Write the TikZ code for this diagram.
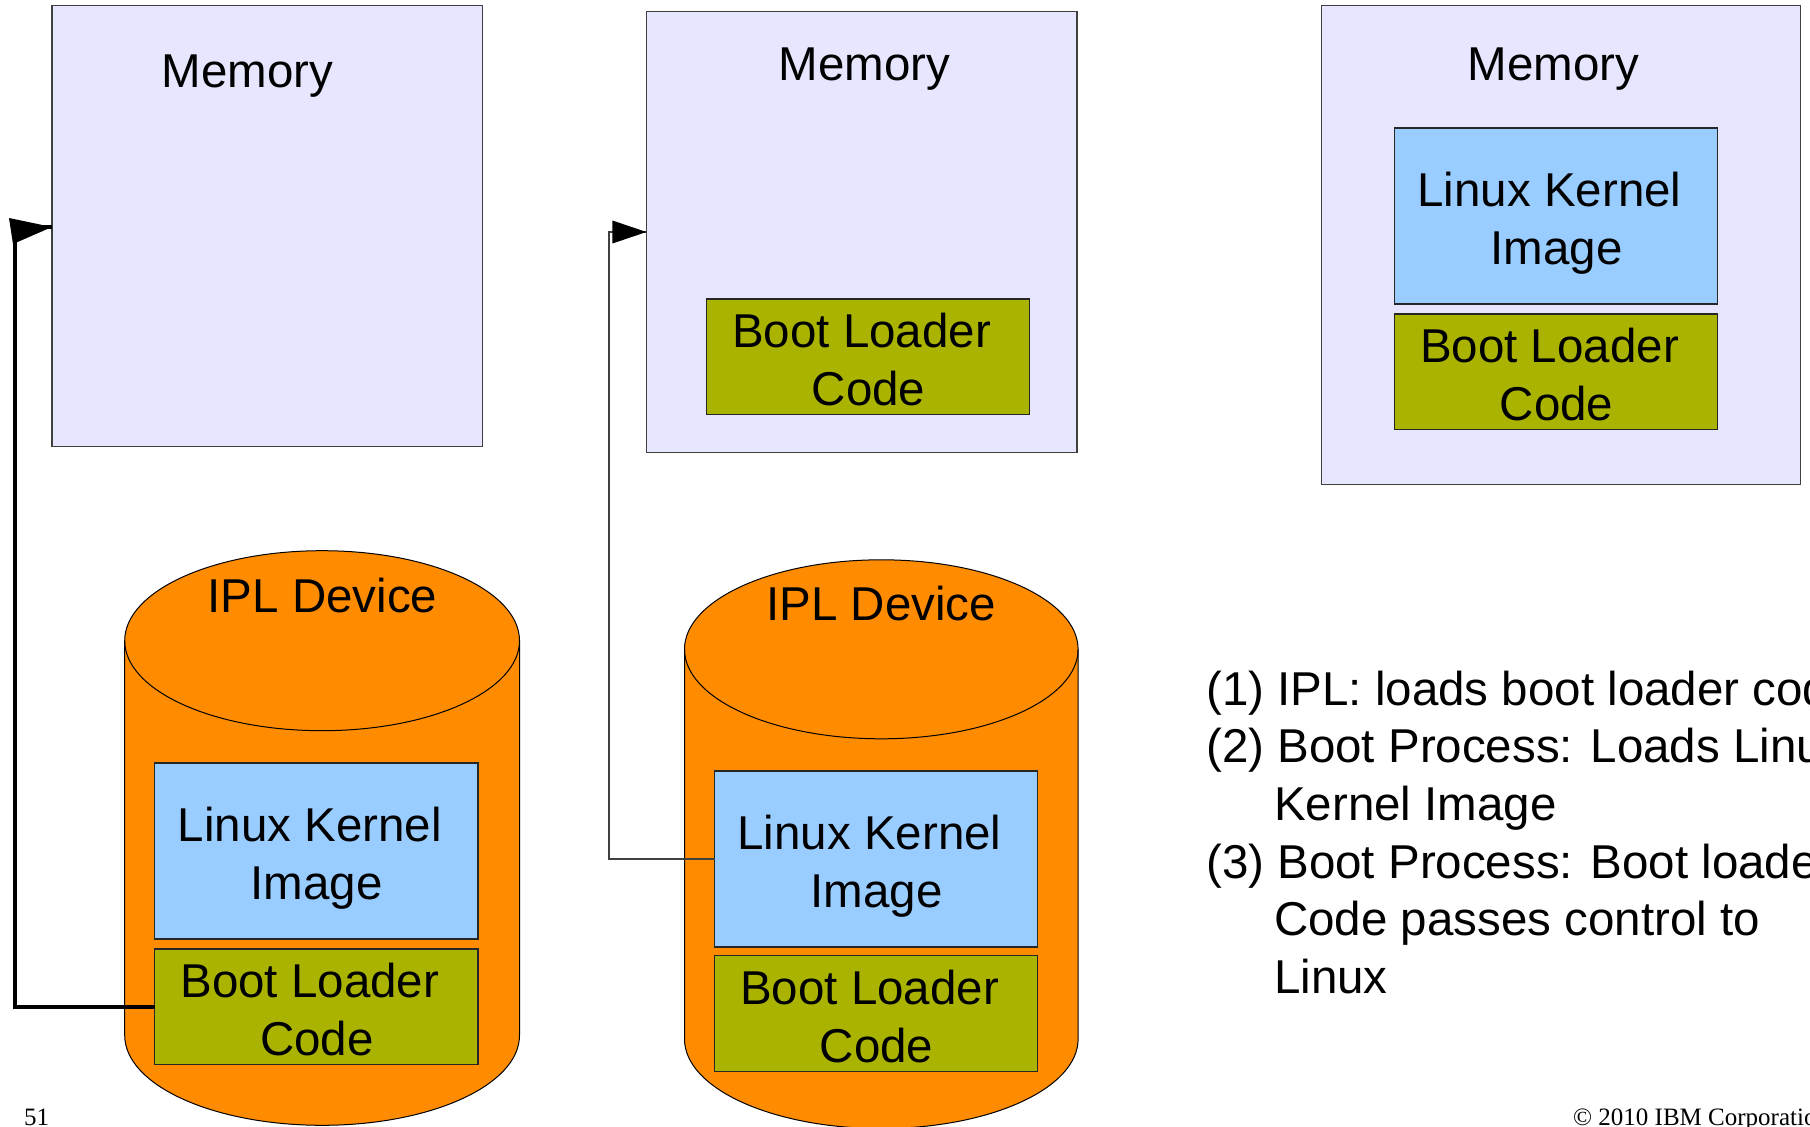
\documentclass[tikz,border=0pt]{standalone}
\usepackage{fontspec}
\setmainfont{Liberation Sans}
\newfontfamily\footfont{Liberation Serif}
\usetikzlibrary{calc}
\definecolor{memfill}{HTML}{E6E6FF}
\definecolor{kernfill}{HTML}{99CCFF}
\definecolor{bootfill}{HTML}{AAB400}
\definecolor{iplfill}{HTML}{FF8C00}
\tikzset{
  membox/.style={draw=black!75, line width=1.2pt, fill=memfill, inner sep=0pt, outer sep=0pt, anchor=north west},
  kernbox/.style={draw=black!85, line width=1.3pt, fill=kernfill, inner sep=0pt, outer sep=0pt, anchor=north west, minimum width=323.2pt, minimum height=176pt},
  bootbox/.style={draw=black!85, line width=1.3pt, fill=bootfill, inner sep=0pt, outer sep=0pt, anchor=north west, minimum width=323.2pt, minimum height=115.4pt},
  txt/.style={inner sep=0pt, anchor=base, font=\fontsize{47.5}{57.7}\selectfont},
  ltxt/.style={inner sep=0pt, anchor=base west, font=\fontsize{47.5}{57.7}\selectfont},
  foot/.style={inner sep=0pt, anchor=base west, font=\footfont\fontsize{25}{28}\selectfont},
  cylfill/.style={fill=iplfill, draw=black, line width=1pt},
  conna/.style={draw=black, line width=4pt},
  connb/.style={draw=black!75, line width=1.5pt},
}
\begin{document}
\begin{tikzpicture}[x=1pt,y=-1pt]
\useasboundingbox (0,0) rectangle (1810,1127);
\clip (0,0) rectangle (1810,1127);
\fill[white] (0,0) rectangle (1810,1127);

% memory boxes
\node[membox, minimum width=430.5pt, minimum height=440.9pt] (m1) at (52,5.8) {};
\node[membox, minimum width=430.6pt, minimum height=441pt] (m2) at (646.4,11.5) {};
\node[membox, minimum width=479.1pt, minimum height=479pt] (m3) at (1321.7,5.8) {};
\node[txt] (m1t) at (247.6,87) {Memory};
\node[txt] (m2t) at (864.6,80) {Memory};
\node[txt] (m3t) at (1553.7,80) {Memory};

% boxes inside memory
\node[bootbox] (bm2) at (706.5,299) {};
\node[kernbox] (km3) at (1394.4,128.1) {};
\node[bootbox] (bm3) at (1394.4,314) {};

% cylinders
\path[cylfill] (124.7,640.7) -- (124.7,1035.3)
  arc[start angle=180, end angle=360, x radius=197.4pt, y radius=90pt]
  -- (519.5,640.7)
  arc[start angle=0, end angle=180, x radius=197.4pt, y radius=90pt] -- cycle;
\draw[line width=1pt] (124.7,640.7) arc[start angle=180, end angle=360, x radius=197.4pt, y radius=90pt];
\path[cylfill] (684.5,649.3) -- (684.5,1039)
  arc[start angle=180, end angle=360, x radius=196.8pt, y radius=89.5pt]
  -- (1078.1,649.3)
  arc[start angle=0, end angle=180, x radius=196.8pt, y radius=89.5pt] -- cycle;
\draw[line width=1pt] (684.5,649.3) arc[start angle=180, end angle=360, x radius=196.8pt, y radius=89.5pt];
\node[txt] (c1t) at (322.6,612.5) {IPL Device};
\node[txt] (c2t) at (881.3,620.5) {IPL Device};

% boxes inside cylinders
\node[kernbox] (k1) at (154.7,763) {};
\node[bootbox] (b1) at (154.7,948.9) {};
\node[kernbox] (k2) at (714.5,771.1) {};
\node[bootbox] (b2) at (714.5,955.8) {};

% box texts
\node[txt] (bm2a) at ($(bm2.center)+(-6.5,-9.5)$) {Boot Loader};
\node[txt] (bm2b) at ($(bm2.center)+(0.5,48.5)$) {Code};
\node[txt] (km3a) at ($(km3.center)+(-6.5,-9.5)$) {Linux Kernel};
\node[txt] (km3b) at ($(km3.center)+(0.5,48.5)$) {Image};
\node[txt] (bm3a) at ($(bm3.center)+(-6.5,-9.5)$) {Boot Loader};
\node[txt] (bm3b) at ($(bm3.center)+(0.5,48.5)$) {Code};
\node[txt] (k1a) at ($(k1.center)+(-6.5,-9.5)$) {Linux Kernel};
\node[txt] (k1b) at ($(k1.center)+(0.5,48.5)$) {Image};
\node[txt] (b1a) at ($(b1.center)+(-6.5,-9.5)$) {Boot Loader};
\node[txt] (b1b) at ($(b1.center)+(0.5,48.5)$) {Code};
\node[txt] (k2a) at ($(k2.center)+(-6.5,-9.5)$) {Linux Kernel};
\node[txt] (k2b) at ($(k2.center)+(0.5,48.5)$) {Image};
\node[txt] (b2a) at ($(b2.center)+(-6.5,-9.5)$) {Boot Loader};
\node[txt] (b2b) at ($(b2.center)+(0.5,48.5)$) {Code};

% connectors
\coordinate (a1) at (15,227);
\draw[conna] (b1.west) -| (a1) -- (a1 -| m1.west);
\fill[black] (a1 -| m1.west) -- ++(-43,-9) -- ++(4,26) -- cycle;
\coordinate (a2) at (609,232);
\draw[connb] (k2.west) -| (a2) -- (a2 -| m2.west);
\fill[black] (a2 -| m2.west) -- ++(-34,-11.5) -- ++(0,23) -- cycle;

% explanation text
\node[ltxt] (s1) at (1206,705) {(1) IPL: loads boot loader code};
\node[ltxt] (s2) at (1206,762.7) {(2) Boot Process: Loads Linux};
\node[ltxt] (s3) at (1274,820.4) {Kernel Image};
\node[ltxt] (s4) at (1206,878.1) {(3) Boot Process: Boot loader};
\node[ltxt] (s5) at (1274,935.8) {Code passes control to};
\node[ltxt] (s6) at (1274,993.5) {Linux};

% footer
\node[foot] (pg) at (24,1125) {51};
\node[foot] (cr) at (1573,1125) {© 2010 IBM Corporation};
\end{tikzpicture}
\end{document}
